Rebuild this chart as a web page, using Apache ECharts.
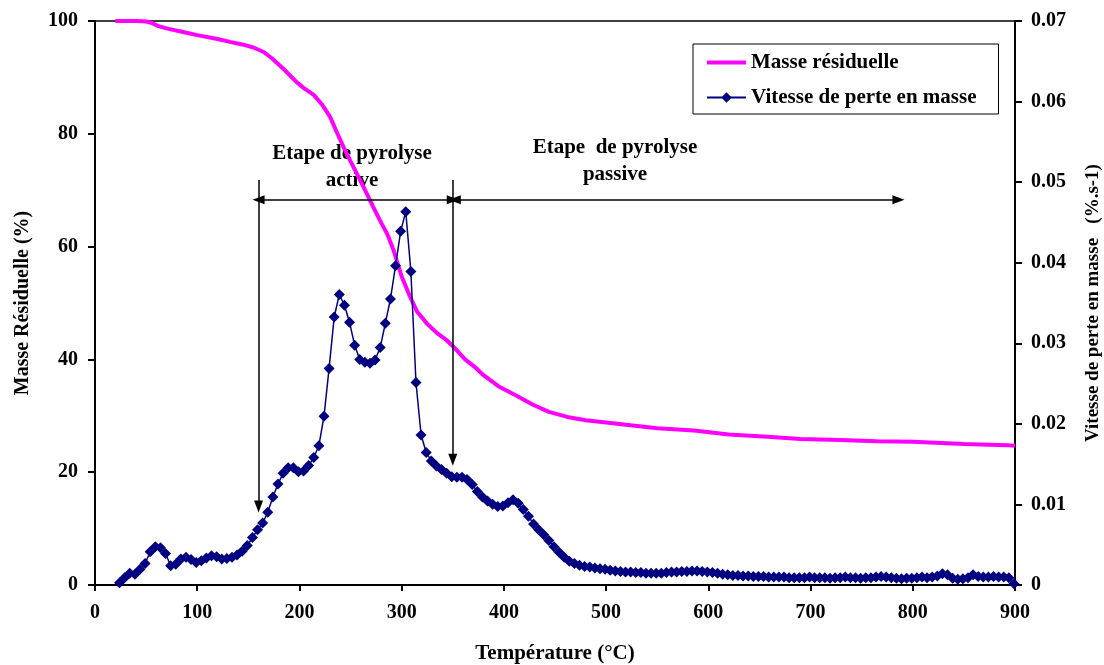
<!DOCTYPE html>
<html>
<head>
<meta charset="utf-8">
<script src="https://cdn.jsdelivr.net/npm/echarts@6/dist/echarts.min.js"></script>
<style>html,body{margin:0;padding:0;background:#fff;}#c{width:1104px;height:665px;}</style>
</head>
<body>
<div id="c"></div>
<script>
// Residual mass curve (%), left axis
const massT = [20,30,40,50,55,62,72,85,100,120,132,145,155,165,173,185,197,205,214,222,230,236,243,250,256,264,272,280,286,292,300,308,315,325,335,344,352,362,372,380,395,412,428,444,462,480,500,515,550,586,620,658,690,729,765,800,850,892,900];
const massPct = [100,100,100,99.9,99.7,99.1,98.6,98.1,97.5,96.8,96.3,95.8,95.3,94.5,93.4,91.4,89.2,88.0,86.9,85.2,83.0,80.5,77.7,75.1,73.0,70.1,67.1,64.2,62.2,59.4,54.7,51.2,48.5,46.3,44.6,43.4,42.0,40.0,38.6,37.2,35.2,33.6,32.0,30.7,29.8,29.2,28.8,28.5,27.8,27.4,26.7,26.3,25.9,25.7,25.5,25.4,25.0,24.8,24.7];

// Mass loss rate (%.s-1), right axis
const rateT = [24,29,34,39,44,49,54,59,64,69,74,79,84,89,94,99,104,109,114,119,124,129,134,139,144,149,154,159,164,169,174,179,184,189,194,199,204,209,214,219,224,229,234,239,244,249,254,259,264,269,274,279,284,289,294,299,304,309,314,319,324,329,334,339,344,349,354,359,364,369,374,379,384,389,394,399,404,409,414,419,424,429,434,439,444,449,454,459,464,469,474,479,484,489,494,499,504,509,514,519,524,529,534,539,544,549,554,559,564,569,574,579,584,589,594,599,604,609,614,619,624,629,634,639,644,649,654,659,664,669,674,679,684,689,694,699,704,709,714,719,724,729,734,739,744,749,754,759,764,769,774,779,784,789,794,799,804,809,814,819,824,829,834,839,844,849,854,859,864,869,874,879,884,889,894,899];
const rateV = [
0.00028,0.00091,0.00147,0.00133,0.00196,0.00266,0.00413,0.00476,0.00462,0.00392,
0.00238,0.00259,0.00322,0.00343,0.00315,0.00280,0.00301,0.00336,0.00364,0.00350,
0.00322,0.00329,0.00343,0.00371,0.00420,0.00490,0.00588,0.00686,0.00770,0.00903,
0.01092,0.01253,0.01386,0.01456,0.01456,0.01407,0.01414,0.01484,0.01582,0.01729,
0.02093,0.02688,0.03325,0.03605,0.03472,0.03262,0.02975,0.02800,0.02765,0.02751,
0.02793,0.02947,0.03248,0.03549,0.03962,0.04389,0.04634,0.03892,0.02513,0.01862,
0.01645,0.01540,0.01477,0.01435,0.01386,0.01344,0.01337,0.01337,0.01309,0.01246,
0.01162,0.01092,0.01043,0.01001,0.00973,0.00980,0.01022,0.01057,0.01015,0.00938,
0.00854,0.00756,0.00686,0.00623,0.00553,0.00476,0.00406,0.00343,0.00294,0.00266,
0.00245,0.00231,0.00224,0.00210,0.00203,0.00196,0.00182,0.00175,0.00168,0.00161,
0.00161,0.00154,0.00154,0.00147,0.00147,0.00147,0.00147,0.00154,0.00161,0.00161,
0.00168,0.00168,0.00175,0.00175,0.00168,0.00161,0.00154,0.00147,0.00133,0.00126,
0.00119,0.00119,0.00112,0.00112,0.00105,0.00105,0.00105,0.00098,0.00098,0.00098,
0.00098,0.00091,0.00091,0.00091,0.00091,0.00098,0.00091,0.00091,0.00091,0.00084,
0.00091,0.00091,0.00098,0.00091,0.00091,0.00084,0.00091,0.00091,0.00098,0.00105,
0.00098,0.00091,0.00084,0.00077,0.00084,0.00084,0.00091,0.00098,0.00091,0.00098,
0.00112,0.00140,0.00126,0.00084,0.00070,0.00077,0.00091,0.00126,0.00105,0.00098,
0.00098,0.00105,0.00098,0.00098,0.00091,0.00014];

// Stage boundaries (°C) and annotation levels (left-axis %)
const stageActive = [160, 350];
const stagePassive = [352, 786];
const arrowTop = 71.8;
const arrowTip1 = 13.9;
const arrowTip2 = 22.2;
const spanLevel = 68.3;

const labelsActive = ['Etape de pyrolyse', 'active'];
const labelsPassive = ['Etape  de pyrolyse', 'passive'];

const FONT = 'Liberation Serif';
const txt = {fontFamily: FONT, fontWeight: 'bold', fontSize: 20, color: '#000'};
const annFont = 'bold 21px "Liberation Serif"';

const chart = echarts.init(document.getElementById('c'), null, {renderer: 'canvas'});

const massData = massT.map((t, i) => [t, massPct[i]]);
const rateData = rateT.map((t, i) => [t, rateV[i]]);

chart.setOption({
  animation: false,
  backgroundColor: '#fff',
  grid: {left: 95, right: 89, top: 21, bottom: 80, containLabel: false, outerBoundsMode: 'none',
         show: true, borderColor: '#000', borderWidth: 1.5, backgroundColor: 'transparent'},
  legend: {
    left: 693, top: 44, orient: 'vertical',
    padding: [8, 22, 6, 13], itemGap: 14, itemWidth: 39, itemHeight: 13,
    borderColor: '#000', borderWidth: 1, backgroundColor: '#fff',
    textStyle: Object.assign({}, txt, {fontSize: 21}),
    data: [
      {name: 'Masse résiduelle', icon: 'path://M0,0 L40,0 L40,4 L0,4 Z', itemStyle: {color: '#FF00FF'}},
      {name: 'Vitesse de perte en masse'}
    ]
  },
  xAxis: {
    type: 'value', min: 0, max: 900, interval: 100,
    name: 'Température (°C)', nameLocation: 'middle', nameGap: 58,
    nameTextStyle: Object.assign({}, txt, {fontSize: 21}),
    axisLine: {lineStyle: {color: '#000', width: 2}},
    axisTick: {inside: false, length: 6, lineStyle: {color: '#000', width: 2}},
    axisLabel: Object.assign({}, txt, {margin: 18}),
    splitLine: {show: false}
  },
  yAxis: [{
    type: 'value', min: 0, max: 100, interval: 20, position: 'left',
    name: 'Masse Résiduelle (%)', nameLocation: 'middle', nameGap: 62,
    nameTextStyle: Object.assign({}, txt, {fontSize: 20}),
    axisLine: {show: true, lineStyle: {color: '#000', width: 2}},
    axisTick: {show: true, length: 7, lineStyle: {color: '#000', width: 2}},
    axisLabel: Object.assign({}, txt, {margin: 17}),
    splitLine: {show: false}
  }, {
    type: 'value', min: 0, max: 0.07, interval: 0.01, position: 'right',
    name: 'Vitesse de perte en masse   (%.s-1)', nameLocation: 'middle', nameGap: 69,
    nameTextStyle: Object.assign({}, txt, {fontSize: 19}),
    axisLine: {show: true, lineStyle: {color: '#000', width: 2}},
    axisTick: {show: true, length: 7, lineStyle: {color: '#000', width: 2}},
    axisLabel: Object.assign({}, txt, {margin: 16, formatter: v => v === 0 ? '0' : v.toFixed(2)}),
    splitLine: {show: false}
  }],
  series: [{
    name: 'Masse résiduelle', type: 'line', yAxisIndex: 0, data: massData,
    showSymbol: false, symbol: 'none', smooth: false,
    lineStyle: {color: '#FF00FF', width: 4}, itemStyle: {color: '#FF00FF'},
    z: 2,
    markLine: {
      silent: true, animation: false, symbolSize: [9, 12],
      label: {show: false},
      lineStyle: {color: '#000', width: 1.5, type: 'solid'},
      emphasis: {disabled: true},
      data: [
        [{coord: [stageActive[0], arrowTop], symbol: 'none'}, {coord: [stageActive[0], arrowTip1], symbol: 'triangle'}],
        [{coord: [stageActive[1], arrowTop], symbol: 'none'}, {coord: [stageActive[1], arrowTip2], symbol: 'triangle'}],
        [{coord: [stageActive[0], spanLevel], symbol: 'triangle'}, {coord: [stageActive[1], spanLevel], symbol: 'triangle'}],
        [{coord: [stagePassive[0], spanLevel], symbol: 'triangle'}, {coord: [stagePassive[1], spanLevel], symbol: 'triangle'}]
      ]
    }
  }, {
    name: 'Vitesse de perte en masse', type: 'line', yAxisIndex: 1, data: rateData,
    symbol: 'diamond', symbolSize: 11, showSymbol: true, showAllSymbol: true,
    lineStyle: {color: '#000080', width: 1.5}, itemStyle: {color: '#000080'},
    z: 3
  }],
  graphic: [
    {type: 'text', style: {text: labelsActive[0], x: 352, y: 154, align: 'center', verticalAlign: 'middle', font: annFont, fill: '#000'}},
    {type: 'text', style: {text: labelsActive[1], x: 352, y: 181, align: 'center', verticalAlign: 'middle', font: annFont, fill: '#000'}},
    {type: 'text', style: {text: labelsPassive[0], x: 615, y: 148, align: 'center', verticalAlign: 'middle', font: annFont, fill: '#000'}},
    {type: 'text', style: {text: labelsPassive[1], x: 615, y: 175, align: 'center', verticalAlign: 'middle', font: annFont, fill: '#000'}}
  ]
});
</script>
</body>
</html>
